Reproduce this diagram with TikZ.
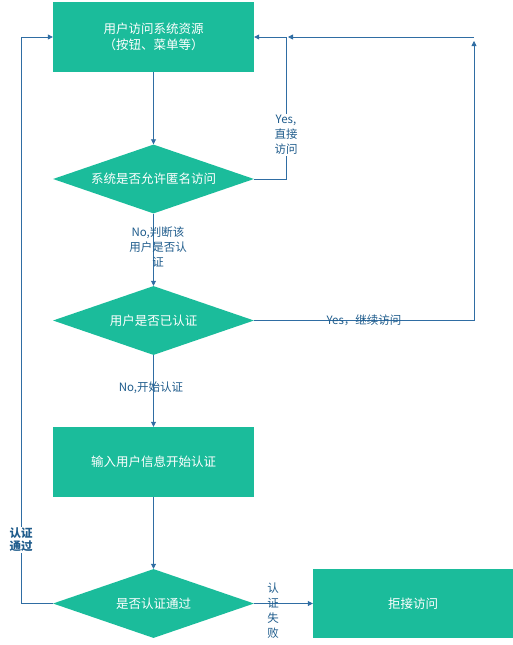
\documentclass[tikz,border=0pt]{standalone}
\usepackage{fontspec}
\setmainfont{Noto Sans CJK SC}
\usetikzlibrary{shapes.geometric,arrows.meta}
\definecolor{boxgreen}{HTML}{1BBC9B}
\definecolor{lineblue}{HTML}{2F6DA3}
\definecolor{labelblue}{HTML}{1F5C8C}
% zero-width text so the diamond keeps its set size
\newcommand{\diamtext}[1]{\makebox[0pt]{#1}}

\begin{document}
\begin{tikzpicture}[x=1pt, y=-1pt,
  procbox/.style={rectangle, fill=boxgreen, text=white, minimum width=201pt,
    minimum height=70pt, inner sep=0pt, align=center,
    font=\fontsize{12.5}{16}\selectfont},
  decide/.style={diamond, fill=boxgreen, text=white, minimum width=201pt,
    minimum height=69pt, inner sep=0pt, font=\fontsize{12.5}{16}\selectfont},
  flow/.style={draw=lineblue, line width=0.8pt, -{Triangle[length=5pt,width=5pt]}},
  edgelabel/.style={text=labelblue, align=center, inner sep=1pt,
    font=\fontsize{11.5}{15}\selectfont}
]
  \useasboundingbox (0,0) rectangle (513,645);

  % boxes and decisions
  \node[procbox] (access) at (153.5,37) {用户访问系统资源\\（按钮、菜单等）};
  \node[decide] (anon) at (153.5,179) {\diamtext{系统是否允许匿名访问}};
  \node[decide] (authed) at (153.5,320.5) {\diamtext{用户是否已认证}};
  \node[procbox] (login) at (153.5,462) {输入用户信息开始认证};
  \node[decide] (passed) at (153.5,603.5) {\diamtext{是否认证通过}};
  \node[procbox, minimum width=200pt, minimum height=69pt] (deny) at (413,603.5) {拒接访问};

  % corner points of the return paths
  \coordinate (yesjoin) at (286,37);
  \coordinate (rightup) at (474,37);
  \coordinate (rightstop) at (474,41);
  \coordinate (leftup) at (21,37);

  % main line
  \draw[flow] (access) -- (anon);
  \draw[flow] (anon) -- (authed);
  \draw[flow] (authed) -- (login);
  \draw[flow] (login) -- (passed);
  \draw[flow] (passed) -- (deny);

  % return paths
  \draw[flow] (anon.east) -| (yesjoin) -- (access.east);
  \draw[flow] (authed.east) -| (rightstop);
  \draw[flow] (rightup) -- ([xshift=2pt]yesjoin);
  \draw[flow] (passed.west) -| (leftup) -- (access.west);

  % labels
  \node[edgelabel, fill=white] (yesdirect) at (286,135) {Yes,\\直接\\访问};
  \node[edgelabel] (nocheck) at (158,247) {No,判断该\\用户是否认\\证};
  \node[edgelabel] (yesgo) at (364,320) {Yes，继续访问};
  \node[edgelabel] (nostart) at (151,388) {No,开始认证};
  \node[edgelabel, fill=white, font=\fontsize{11.5}{13}\selectfont\bfseries] (okpass) at (21,540) {认证\\通过};
  \node[edgelabel] (failed) at (273,611) {认\\证\\失\\败};
\end{tikzpicture}
\end{document}
